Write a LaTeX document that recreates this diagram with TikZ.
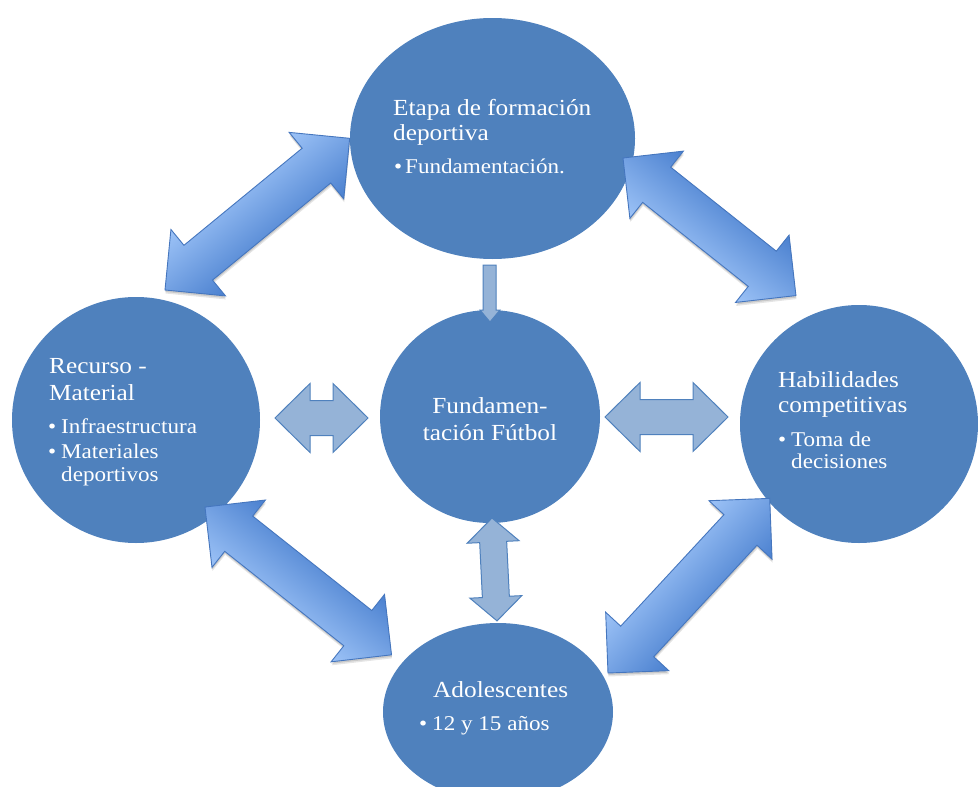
\documentclass[tikz,border=0pt]{standalone}
\usepackage{fontspec}
\setmainfont{Liberation Serif}[FakeStretch=1.1]
\usetikzlibrary{shapes.geometric,calc}

\definecolor{bubblefill}{HTML}{4F81BD}
\definecolor{softfill}{HTML}{95B3D7}
\definecolor{arrowlight}{HTML}{9DC3F7}
\definecolor{arrowdark}{HTML}{4A80CF}
\definecolor{arrowline}{HTML}{4576BE}

% Block double arrow drawn in its own rotated frame.
% #1 style, #2 start tip, #3 angle, #4 length, #5 shaft width, #6 head width, #7 head length
\newcommand\blockarrow[7]{%
  \begin{scope}[transform canvas={shift={(#2)},rotate=#3}]
    \path[#1] (0,0) -- (#7,-#6/2) -- (#7,-#5/2) -- (#4-#7,-#5/2) -- (#4-#7,-#6/2)
      -- (#4,0) -- (#4-#7,#6/2) -- (#4-#7,#5/2) -- (#7,#5/2) -- (#7,#6/2) -- cycle;
  \end{scope}}

% Big shaded arrow with a soft shadow underneath
\newcommand\bigblock[4]{% #1 shading, #2 start tip, #3 angle, #4 length
  \blockarrow{fill=black,opacity=0.10}{$(#2)+(0.5,3.5)$}{#3}{#4}{45}{86}{43}
  \blockarrow{fill=black,opacity=0.12}{$(#2)+(0.3,2)$}{#3}{#4}{45}{86}{43}
  \blockarrow{bigarrow,#1}{#2}{#3}{#4}{45}{86}{43}}

\begin{document}
\begin{tikzpicture}[x=1pt,y=-1pt,
  bubble/.style={ellipse,fill=bubblefill,draw=none,inner sep=0pt},
  ttl/.style={text=white,font=\fontsize{23}{26}\selectfont,inner sep=0pt,anchor=base west},
  ttlc/.style={text=white,font=\fontsize{23}{26}\selectfont,inner sep=0pt,anchor=base},
  itm/.style={text=white,font=\fontsize{21}{24}\selectfont,inner sep=0pt,anchor=base west},
  bigarrow/.style={draw=arrowline,line width=0.9pt,line join=miter},
  smallarrow/.style={fill=softfill,draw=bubblefill,line width=1pt,line join=miter},
  lightup/.style={top color=arrowlight,bottom color=arrowdark},
  lightdown/.style={top color=arrowdark,bottom color=arrowlight}]

\fill[white] (0,0) rectangle (978,787);
\clip (0,0) rectangle (978,787);

% circles
\node[bubble,minimum width=285pt,minimum height=241pt] (etapa) at (492.5,138.5) {};
\node[bubble,minimum width=248pt,minimum height=246pt] (recurso) at (136,420) {};
\node[bubble,minimum width=220pt,minimum height=213pt] (fund) at (490,416.5) {};
\node[bubble,minimum width=238pt,minimum height=238pt] (habil) at (859,424) {};
\node[bubble,minimum width=230pt,minimum height=178pt] (adol) at (498,712) {};

% texts
\node[ttl] (etapa1) at (393,115) {Etapa de formación};
\node[ttl] (etapa2) at (393,140) {deportiva};
\node[itm] (etapab) at (394,173) {•};
\node[itm] (etapa3) at (405,173) {Fundamentación.};

\node[ttl] (rec1) at (49,373) {Recurso -};
\node[ttl] (rec2) at (49,400) {Material};
\node[itm] (recb1) at (48,433) {•};
\node[itm] (rec3) at (61,433) {Infraestructura};
\node[itm] (recb2) at (48,458) {•};
\node[itm] (rec4) at (61,458) {Materiales};
\node[itm] (rec5) at (61,481) {deportivos};

\node[ttlc] (fund1) at (490,413) {Fundamen-};
\node[ttlc] (fund2) at (490,440) {tación Fútbol};

\node[ttl] (hab1) at (778,387) {Habilidades};
\node[ttl] (hab2) at (778,412) {competitivas};
\node[itm] (habb) at (778,446) {•};
\node[itm] (hab3) at (791,446) {Toma de};
\node[itm] (hab4) at (791,468) {decisiones};

\node[ttl] (adol1) at (433,697) {Adolescentes};
\node[itm] (adolb) at (419,730) {•};
\node[itm] (adol2) at (432,730) {12 y 15 años};

% arrow end points
\coordinate (tlA) at (165,290);
\coordinate (trA) at (623,158);
\coordinate (blA) at (205,507);
\coordinate (brA) at (608,673);
\coordinate (lhA) at (275,418);
\coordinate (rhA) at (605,417);
\coordinate (vA) at (492,518);
\coordinate (dnA) at (489.5,265);

% big diagonal arrows
\bigblock{lightup}{tlA}{39.4}{239}
\bigblock{lightdown}{trA}{-38.5}{221}
\bigblock{lightdown}{blA}{-38.4}{238}
\bigblock{lightup}{brA}{47.2}{238}

% small light arrows
\blockarrow{smallarrow}{lhA}{0}{93}{35}{69}{35}
\blockarrow{smallarrow}{rhA}{0}{123}{35}{69}{35}
\blockarrow{smallarrow}{vA}{-87.2}{103}{27}{52}{24}

\begin{scope}[shift={(dnA)}]
  \path[smallarrow] (-6.5,0) -- (6.5,0) -- (6.5,45) -- (10.5,45) -- (0.5,57)
    -- (-9.5,45) -- (-6.5,45) -- cycle;
\end{scope}

\end{tikzpicture}
\end{document}
